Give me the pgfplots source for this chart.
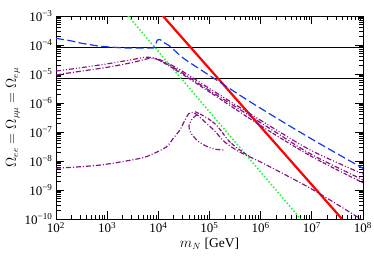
\documentclass[border=0pt]{standalone}
\usepackage{pgfplots}
\pgfplotsset{compat=1.18}
\usepackage{fontspec}
\setmainfont{Liberation Serif}
\definecolor{pur}{RGB}{135,20,135}
\definecolor{blu}{RGB}{25,55,235}
\definecolor{grn}{RGB}{40,245,60}
\begin{document}
\begin{tikzpicture}
\begin{axis}[
  at={(0,0)}, anchor=south west,
  scale only axis, width=307pt, height=203pt,
  xmode=log, ymode=log,
  xmin=1e2, xmax=1e8, ymin=1e-10, ymax=1e-3,
  xtick={1e2,1e3,1e4,1e5,1e6,1e7,1e8},
  ytick={1e-10,1e-9,1e-8,1e-7,1e-6,1e-5,1e-4,1e-3},
  xticklabel={10\textsuperscript{\pgfmathparse{int(round(\tick/ln(10)))}\pgfmathresult}},
  yticklabel={10\textsuperscript{−\pgfmathparse{int(round(-\tick/ln(10)))}\pgfmathresult}},
  ticklabel style={font=\fontsize{13}{15}\selectfont},
  tick align=inside,
  major tick length=8pt, minor tick length=4.5pt,
  every tick/.style={black, line width=0.8pt},
  axis line style={line width=1pt},
  xtick pos=both, ytick pos=both,
  xlabel={$m_N$ [GeV]},
  ylabel={$\Omega_{ee}=\Omega_{\mu\mu}=\Omega_{e\mu}$},
  label style={font=\fontsize{13.5}{15}\selectfont},
  xlabel style={yshift=2pt},
  ylabel style={yshift=-2pt},
  clip=true,
]
% horizontal limits
\addplot[black, line width=1pt] coordinates {(1e2,8.1e-5) (1e8,8.1e-5)};
\addplot[black, line width=1pt] coordinates {(1e2,7.1e-6) (1e8,7.1e-6)};
% red
\addplot[red, line width=2.2pt] coordinates {(1.23e4,1e-3) (3.89e7,1e-10)};
% green dotted
\addplot[grn, line width=1.6pt, dash pattern=on 1.5pt off 2pt] coordinates {(2.57e3,1e-3) (6.03e6,1e-10)};
% blue dashed
\addplot[blu, line width=1.2pt, dash pattern=on 8pt off 3.5pt, smooth, tension=0.4] coordinates {
 (1e2,1.70e-4) (200,1.38e-4) (316,1.15e-4) (724,9.1e-5) (2000,8.0e-5) (5623,7.8e-5)
 (7943,7.9e-5) (8511,8.7e-5) (9550,1.48e-4) (1.07e4,1.55e-4) (1.35e4,1.15e-4)
 (1.7e4,9.0e-5) (3.16e4,3.4e-5) (1.38e5,6.17e-6) (6.17e5,1.11e-6)
 (3.16e6,1.9e-7) (1.58e7,3.55e-8) (1e8,5.6e-9)};
% upper purple group
\addplot[pur, line width=1.2pt, dash pattern=on 5pt off 2pt on 1pt off 2pt on 1pt off 2pt, smooth] coordinates {
 (1e2,1.26e-5) (316,1.66e-5) (1e3,2.24e-5) (3162,3.16e-5) (5754,3.80e-5) (8913,3.47e-5)
 (14125,2.51e-5) (26303,1.41e-5) (1e5,3.16e-6) (316228,8.91e-7) (1.905e6,1.26e-7)
 (1e7,2.24e-8) (1e8,3.55e-9)};
\addplot[pur, line width=1.2pt, dash pattern=on 5pt off 2pt on 1pt off 2pt, smooth] coordinates {
 (1e2,9.33e-6) (316,1.26e-5) (1e3,1.70e-5) (3162,2.51e-5) (6310,3.39e-5) (8913,3.31e-5)
 (14125,2.29e-5) (26303,1.23e-5) (1e5,2.69e-6) (316228,7.59e-7) (1.905e6,1.02e-7)
 (1e7,1.66e-8) (1e8,2.24e-9)};
\addplot[pur, line width=1.2pt, dash pattern=on 4pt off 1.5pt on 4pt off 2pt on 1pt off 2pt, smooth] coordinates {
 (1e4,3.16e-5) (26303,1.12e-5) (1e5,2.40e-6) (1e6,1.66e-7) (1e7,1.41e-8) (1e8,1.78e-9)};
% lower purple group
\addplot[pur, line width=1.2pt, dash pattern=on 5pt off 2pt on 1pt off 2pt, smooth] coordinates {
 (1e2,5.62e-9) (724,7.24e-9) (4365,1.23e-8) (7943,1.78e-8) (14454,3.09e-8) (19953,6.31e-8)
 (26303,1.17e-7) (33113,2.57e-7) (39811,4.37e-7) (47863,4.68e-7) (60256,3.63e-7)
 (87096,2.0e-7) (128825,1.05e-7) (199526,4.47e-8) (398107,2.0e-8) (1.122e6,8.32e-9)
 (1.072e7,1.0e-9) (1e8,8.9e-11)};
\addplot[pur, line width=1.2pt, dash pattern=on 5pt off 2pt on 1pt off 2pt on 1pt off 2pt, smooth] coordinates {
 (57544,3.98e-7) (45709,2.82e-7) (39811,1.66e-7) (41687,1.05e-7) (48978,6.92e-8)
 (63096,4.47e-8) (89125,3.16e-8) (125893,2.57e-8) (186209,2.40e-8)};
\addplot[pur, line width=1.2pt, dash pattern=on 4pt off 1.5pt on 4pt off 2pt on 1pt off 2pt, smooth] coordinates {
 (52481,5.01e-7) (81283,3.39e-7) (128825,1.91e-7) (173780,1.02e-7) (223872,5.62e-8)
 (316228,3.16e-8) (501187,1.78e-8) (630957,1.41e-8)};
\end{axis}
\pgfresetboundingbox
\path[use as bounding box] (-56pt,-40pt) rectangle (318pt,219pt);
\end{tikzpicture}
\end{document}
